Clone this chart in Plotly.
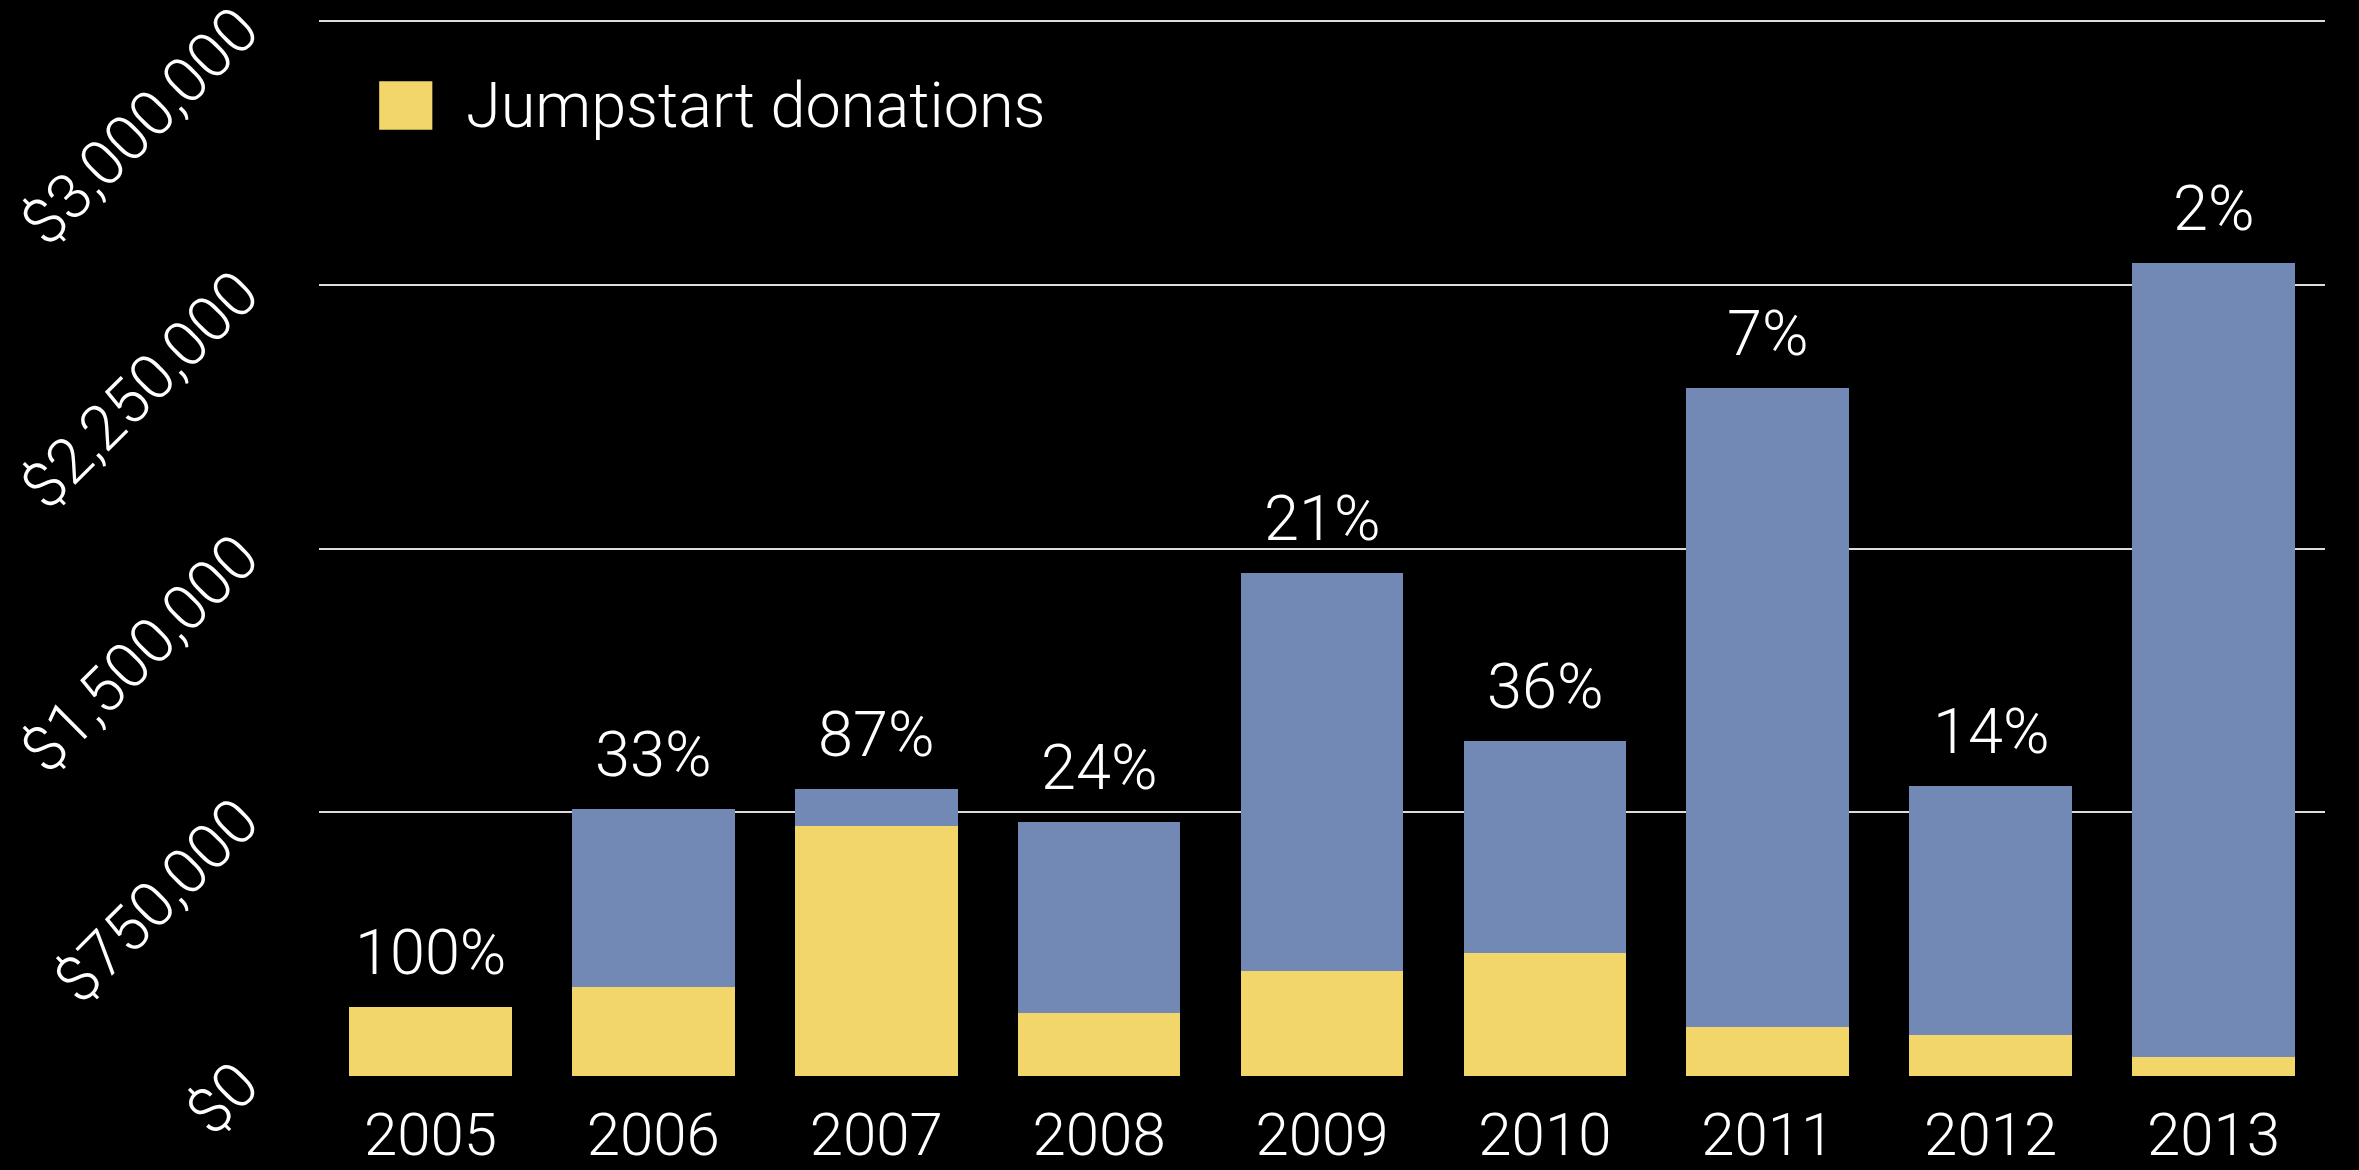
import plotly.graph_objects as go

years = ["2005", "2006", "2007", "2008", "2009", "2010", "2011", "2012", "2013"]
jumpstart = [197000, 252000, 710000, 178000, 300000, 350000, 140000, 118000, 55000]
other = [0, 506000, 107000, 545000, 1129000, 604000, 1816000, 708000, 2256000]
pct_labels = ["100%", "33%", "87%", "24%", "21%", "36%", "7%", "14%", "2%"]
y_tickvals = [0, 750000, 1500000, 2250000, 3000000]
y_ticktext = ["$0", "$750,000", "$1,500,000", "$2,250,000", "$3,000,000"]
legend_label = "Jumpstart donations"

YELLOW = "#F3D66A"
BLUE = "#7289B5"
FONT = "Roboto"

fig = go.Figure()
fig.add_trace(go.Bar(x=years, y=jumpstart, name=legend_label,
                     marker=dict(color=YELLOW, line=dict(width=0)),
                     showlegend=False))
fig.add_trace(go.Bar(x=years, y=other, name="Other donations",
                     marker=dict(color=BLUE, line=dict(width=0)),
                     showlegend=False))

totals = [a + b for a, b in zip(jumpstart, other)]
for i, (tot, lab) in enumerate(zip(totals, pct_labels)):
    # category index on the category axis
    fig.add_annotation(x=i, y=tot, text=lab, showarrow=False,
                       yanchor="bottom", yshift=16,
                       font=dict(family=FONT, size=63, color="white", weight=300))

# custom legend
fig.add_shape(type="rect", xref="paper", yref="paper",
              x0=0.030, x1=0.0565, y0=0.896, y1=0.942,
              fillcolor=YELLOW, line=dict(width=0))
fig.add_annotation(xref="paper", yref="paper", x=0.0725, y=0.919,
                   xanchor="left", yanchor="middle", text=legend_label,
                   showarrow=False,
                   font=dict(family=FONT, size=63, color="white", weight=300))

fig.update_layout(
    width=2359, height=1170,
    paper_bgcolor="black", plot_bgcolor="black",
    barmode="stack", bargap=0.27,
    margin=dict(l=319, r=34, t=20, b=94),
    font=dict(family=FONT, color="white", size=60, weight=300),
    xaxis=dict(type="category", categoryorder="array", categoryarray=years,
               range=[-0.5, len(years) - 0.5], automargin=False,
               showgrid=False, showline=False, zeroline=False,
               tickfont=dict(family=FONT, size=60, color="white", weight=300),
               ticks="", ticklabelstandoff=18),
    yaxis=dict(range=[0, 3003000], tickvals=y_tickvals, ticktext=y_ticktext,
               automargin=False,
               showgrid=True, gridcolor="#DDDDDD", gridwidth=2,
               zeroline=False, showline=False, tickangle=-45,
               ticks="", ticklabelstandoff=78, ticklabeloverflow="allow",
               tickfont=dict(family=FONT, size=63, color="white", weight=300)),
)

fig.write_html(
    "out.html",
    config={"displayModeBar": False},
    post_script="document.body.style.margin='0';document.body.style.background='black';document.body.style.overflow='hidden';",
)
